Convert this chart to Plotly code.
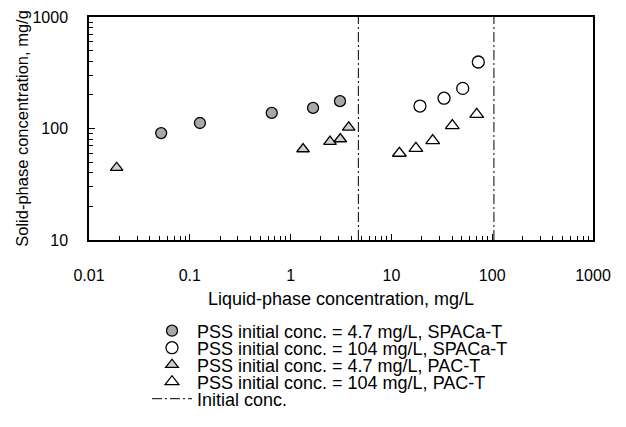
import plotly.graph_objects as go

# --- data ---
spaca_47_x = [0.052, 0.126, 0.65, 1.67, 3.09]
spaca_47_y = [91, 112, 138, 153, 176]

spaca_104_x = [19.2, 33.3, 51, 72.8]
spaca_104_y = [159, 187, 229, 395]

pac_47_x = [0.0188, 1.33, 2.46, 3.11, 3.77]
pac_47_y = [44.5, 65.5, 76.2, 80.5, 102.5]

pac_104_x = [12.0, 17.5, 25.7, 40.2, 70.2]
pac_104_y = [60, 66.4, 77.8, 106, 134]

initial_conc = [4.7, 104]
y_bounds = [10, 1000]

x_tickvals = [0.01, 0.1, 1, 10, 100, 1000]
x_ticktext = ["0.01", "0.1", "1", "10", "100", "1000"]
y_tickvals = [10, 100, 1000]
y_ticktext = ["10", "100", "1000"]

names = [
    "PSS initial conc. = 4.7 mg/L, SPACa-T",
    "PSS initial conc. = 104 mg/L, SPACa-T",
    "PSS initial conc. = 4.7 mg/L, PAC-T",
    "PSS initial conc. = 104 mg/L, PAC-T",
    "Initial conc.",
]

FONT = "Liberation Sans, Arial, sans-serif"

fig = go.Figure()

fig.add_trace(go.Scatter(
    x=spaca_47_x, y=spaca_47_y, mode="markers", name=names[0], legend="legend",
    marker=dict(symbol="circle", size=11, color="#a8a8a8",
                line=dict(color="black", width=1.3)),
))
fig.add_trace(go.Scatter(
    x=spaca_104_x, y=spaca_104_y, mode="markers", name=names[1], legend="legend2",
    marker=dict(symbol="circle", size=12, color="white",
                line=dict(color="black", width=1.3)),
))
fig.add_trace(go.Scatter(
    x=pac_47_x, y=pac_47_y, mode="markers", name=names[2], legend="legend3",
    marker=dict(symbol="triangle-up", size=11, color="#cfcfcf",
                line=dict(color="black", width=1.3)),
))
fig.add_trace(go.Scatter(
    x=pac_104_x, y=pac_104_y, mode="markers", name=names[3], legend="legend4",
    marker=dict(symbol="triangle-up", size=12, color="white",
                line=dict(color="black", width=1.3)),
))

vx, vy = [], []
for c in initial_conc:
    vx += [c, c, None]
    vy += [y_bounds[0], y_bounds[1], None]
fig.add_trace(go.Scatter(
    x=vx, y=vy, mode="lines", name=names[4], legend="legend5",
    line=dict(color="black", width=1, dash="10px,3px,2px,3px"),
))

minor_vals = [m * 10 ** e for e in range(-2, 3) for m in range(2, 10)]
minor_y = [m * 10 ** e for e in range(1, 3) for m in range(2, 10)]

axis_common = dict(
    type="log", showgrid=False, zeroline=False,
    showline=True, linecolor="black", linewidth=1.5, mirror=True,
    ticks="inside", ticklen=6, tickcolor="black", tickwidth=1,
    tickfont=dict(family=FONT, size=16, color="black"),
    automargin=False,
)

fig.update_xaxes(
    **axis_common,
    range=[-2, 3],
    tickmode="array", tickvals=x_tickvals, ticktext=x_ticktext,
    minor=dict(tickmode="array", tickvals=minor_vals, ticks="inside",
               ticklen=4, tickcolor="black", showgrid=False),
    ticklabelstandoff=20,
    title=dict(text="Liquid-phase concentration, mg/L",
               font=dict(family=FONT, size=18, color="black"), standoff=9),
)
fig.update_yaxes(
    **axis_common,
    range=[1, 3],
    tickmode="array", tickvals=y_tickvals, ticktext=y_ticktext,
    minor=dict(tickmode="array", tickvals=minor_y, ticks="inside",
               ticklen=4, tickcolor="black", showgrid=False),
    ticklabelstandoff=16,
    title=dict(text="Solid-phase concentration, mg/g",
               font=dict(family=FONT, size=16.5, color="black"), standoff=0),
)

# legend rows (pixel centres) converted to paper coordinates
plot_left, plot_w = 89, 504
plot_bottom, plot_h = 240, 223
row_y = [331, 348, 365, 382, 399]
legend_common = dict(
    xref="paper", yref="paper", x=(147 - plot_left) / plot_w, xanchor="left",
    yanchor="middle", bgcolor="rgba(0,0,0,0)", borderwidth=0, itemwidth=40,
    font=dict(family=FONT, size=18, color="black"),
)
fig.update_layout(
    legend=dict(**legend_common, y=(plot_bottom - row_y[0]) / plot_h),
    legend2=dict(**legend_common, y=(plot_bottom - row_y[1]) / plot_h),
    legend3=dict(**legend_common, y=(plot_bottom - row_y[2]) / plot_h),
    legend4=dict(**legend_common, y=(plot_bottom - row_y[3]) / plot_h),
    legend5=dict(**legend_common, y=(plot_bottom - row_y[4]) / plot_h),
)

fig.update_layout(
    width=626, height=427, autosize=False,
    margin=dict(l=89, r=33, t=17, b=187, autoexpand=False),
    paper_bgcolor="white", plot_bgcolor="white",
    font=dict(family=FONT, color="black"),
    showlegend=True,
)

# remove the browser's default 8px body margin so the figure fills the window
fig.write_html(
    "out.html",
    config={"displayModeBar": False},
    post_script="document.body.style.margin='0';",
)
